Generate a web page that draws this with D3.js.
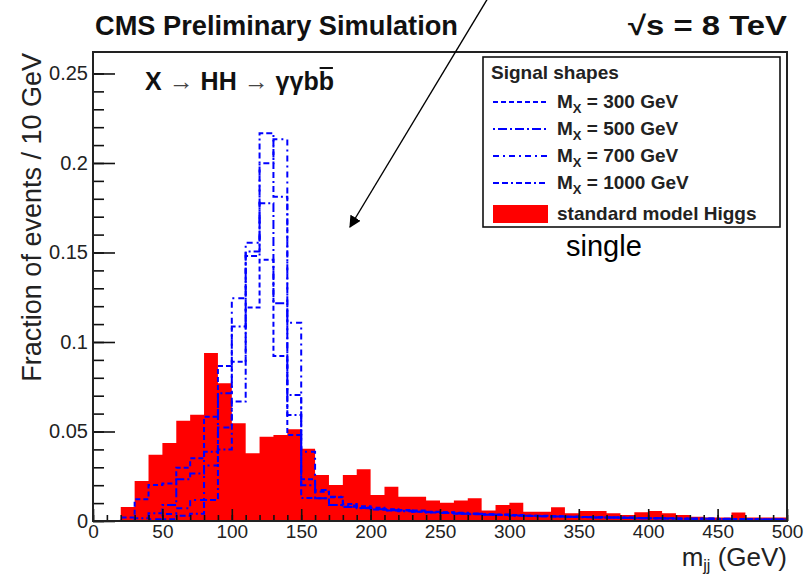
<!DOCTYPE html>
<html>
<head>
<meta charset="utf-8">
<script src="https://cdn.jsdelivr.net/npm/d3@7"></script>
<style>
  body { margin: 0; background: #fff; }
  text { font-family: "Liberation Sans", Arial, sans-serif; }
</style>
</head>
<body>
<svg id="chart" width="809" height="575"></svg>
<script>
// bin edges, 10 GeV wide, 0 -> 500
const binEdges = d3.range(0, 501, 10)

// standard model Higgs (red filled)
const smHiggs = [0, 0, 0.0078, 0.0224, 0.037, 0.0436, 0.056, 0.0594, 0.0938, 0.077,
  0.0546, 0.0378, 0.0471, 0.048, 0.0512, 0.0404, 0.0257, 0.0201, 0.0257, 0.0289,
  0.0145, 0.0192, 0.0136, 0.0136, 0.0114, 0.0102, 0.0114, 0.0127, 0.0058, 0.0089,
  0.0102, 0.0052, 0.0052, 0.0077, 0.0043, 0.0056, 0.0056, 0.0043, 0.0034, 0.0049,
  0.0056, 0.0043, 0.0034, 0.0024, 0.002, 0.002, 0.0047, 0.0019, 0.0019, 0.0019]

// signal shapes
const mx300 = [0, 0, 0.0019, 0.0121, 0.0201, 0.021, 0.0298, 0.035, 0.0583, 0.0866,
  0.089, 0.1192, 0.146, 0.0922, 0.048, 0.0233, 0.0164, 0.0132, 0.0095, 0.0082,
  0.0074, 0.0066, 0.0062, 0.0058, 0.0052, 0.0049, 0.0046, 0.0041, 0.0038, 0.0036,
  0.0033, 0.003, 0.0029, 0.0026, 0.0024, 0.0023, 0.0021, 0.0019, 0.0018, 0.0017,
  0.0015, 0.0015, 0.0013, 0.0012, 0.0012, 0.0011, 0.001, 0.0009, 0.0009, 0.0008]
const mx500 = [0, 0, 0, 0.0015, 0.0043, 0.0089, 0.0233, 0.0266, 0.0387, 0.0713,
  0.1086, 0.1505, 0.1775, 0.1216, 0.0592, 0.02, 0.0127, 0.0089, 0.0078, 0.0072,
  0.0066, 0.006, 0.0057, 0.0052, 0.0049, 0.0045, 0.0042, 0.004, 0.0036, 0.0034,
  0.0031, 0.0029, 0.0027, 0.0025, 0.0024, 0.0022, 0.002, 0.0019, 0.0018, 0.0016,
  0.0015, 0.0014, 0.0013, 0.0013, 0.0012, 0.0011, 0.001, 0.001, 0.0009, 0.0009]
const mx700 = [0, 0, 0, 0, 0.001, 0.0039, 0.0071, 0.0117, 0.031, 0.0523,
  0.1244, 0.1555, 0.1998, 0.2132, 0.1108, 0.0387, 0.0173, 0.0136, 0.0086, 0.0075,
  0.0068, 0.0063, 0.0058, 0.0054, 0.005, 0.0047, 0.0043, 0.004, 0.0037, 0.0035,
  0.0032, 0.003, 0.0028, 0.0026, 0.0024, 0.0023, 0.0021, 0.002, 0.0019, 0.0017,
  0.0016, 0.0015, 0.0014, 0.0013, 0.0012, 0.0012, 0.0011, 0.001, 0.001, 0.0009]
const mx1000 = [0, 0, 0, 0, 0, 0.001, 0.003, 0.004, 0.0117, 0.04,
  0.0667, 0.148, 0.2166, 0.1812, 0.0704, 0.0128, 0.0127, 0.0089, 0.008, 0.0071,
  0.0064, 0.0059, 0.0055, 0.0051, 0.0047, 0.0044, 0.0041, 0.0038, 0.0035, 0.0033,
  0.003, 0.0028, 0.0026, 0.0025, 0.0023, 0.0021, 0.002, 0.0019, 0.0017, 0.0016,
  0.0015, 0.0014, 0.0013, 0.0012, 0.0012, 0.0011, 0.001, 0.001, 0.0009, 0.0009]

const signalNames = ['300', '500', '700', '1000']
const signalSeries = [mx300, mx500, mx700, mx1000]
const signalDash = ['5,3', '2,3,9,3', '6,4,2,4', '6,3,6,3,2,3']

const xMajor = [0, 50, 100, 150, 200, 250, 300, 350, 400, 450, 500]
const xMinor = d3.range(0, 501, 10)
const yMajor = [0, 0.05, 0.1, 0.15, 0.2, 0.25]
const yMinor = d3.range(0, 26).map(function(i) { return i / 100 })

const svg = d3.select('#chart')

// plot frame
const frame = {left: 93, right: 787, top: 52, bottom: 521}
const x = d3.scaleLinear().domain([0, 500]).range([frame.left, frame.right])
const y = d3.scaleLinear().domain([0, 0.262]).range([frame.bottom, frame.top])

// turn a bin array into step points (edge, value)
function steps(vals) {
  const pts = vals.map(function(v, i) { return [binEdges[i], v] })
  pts.push([binEdges[vals.length], vals[vals.length - 1]])
  return pts
}

// red filled histogram
const area = d3.area()
  .curve(d3.curveStepAfter)
  .x(function(d) { return x(d[0]) })
  .y0(y(0))
  .y1(function(d) { return y(d[1]) })

svg.append('path')
  .datum(steps(smHiggs))
  .attr('fill', '#ff0000')
  .attr('d', area)

// blue signal outlines
const line = d3.line()
  .curve(d3.curveStepAfter)
  .x(function(d) { return x(d[0]) })
  .y(function(d) { return y(d[1]) })

signalSeries.forEach(function(s, i) {
  svg.append('path')
    .datum(steps(s))
    .attr('fill', 'none')
    .attr('stroke', '#0000ff')
    .attr('stroke-width', 2)
    .attr('stroke-dasharray', signalDash[i])
    .attr('d', line)
})

// axes: ticks point inwards, ROOT style
const xAxisMinor = d3.axisBottom(x).tickValues(xMinor).tickSize(-6).tickFormat('')
const xAxisMajor = d3.axisBottom(x).tickValues(xMajor).tickSize(-12).tickPadding(4)
  .tickFormat(d3.format('~g'))
const yAxisMinor = d3.axisLeft(y).tickValues(yMinor).tickSize(-11).tickFormat('')
const yAxisMajor = d3.axisLeft(y).tickValues(yMajor).tickSize(-22).tickPadding(5)
  .tickFormat(d3.format('~g'))

function styleAxis(g, size) {
  g.select('.domain').remove()
  g.selectAll('line').attr('stroke', '#111').attr('stroke-width', 1.6)
  g.selectAll('text')
    .attr('fill', '#222')
    .style('font-family', '"Liberation Sans", Arial, sans-serif')
    .style('font-size', size + 'px')
}

svg.append('g').attr('transform', 'translate(0,' + frame.bottom + ')').call(xAxisMinor).call(styleAxis, 19)
svg.append('g').attr('transform', 'translate(0,' + frame.bottom + ')').call(xAxisMajor).call(styleAxis, 19)
svg.append('g').attr('transform', 'translate(' + frame.left + ',0)').call(yAxisMinor).call(styleAxis, 20)
svg.append('g').attr('transform', 'translate(' + frame.left + ',0)').call(yAxisMajor).call(styleAxis, 20)

svg.append('rect')
  .attr('x', frame.left).attr('y', frame.top)
  .attr('width', frame.right - frame.left).attr('height', frame.bottom - frame.top)
  .attr('fill', 'none')
  .attr('stroke', '#222')
  .attr('stroke-width', 2)

// axis titles
svg.append('text')
  .attr('transform', 'translate(41,' + (frame.top + 1) + ') rotate(-90)')
  .attr('text-anchor', 'end')
  .attr('fill', '#222')
  .style('font-size', '27px')
  .text('Fraction of events / 10 GeV')

const xt = svg.append('text')
  .attr('x', frame.right).attr('y', 566)
  .attr('text-anchor', 'end')
  .attr('fill', '#222')
  .style('font-size', '26px')
xt.append('tspan').text('m')
xt.append('tspan').attr('dy', 5).style('font-size', '16px').text('jj')
xt.append('tspan').attr('dy', -5).text(' (GeV)')

// header
svg.append('text')
  .attr('x', 95).attr('y', 35)
  .attr('textLength', 363).attr('lengthAdjust', 'spacingAndGlyphs')
  .style('font-family', '"Liberation Sans Narrow", "Liberation Sans", Arial, sans-serif')
  .style('font-weight', 'bold').style('font-size', '27px')
  .attr('fill', '#111')
  .text('CMS Preliminary Simulation')

svg.append('text')
  .attr('x', 628).attr('y', 35)
  .attr('textLength', 159).attr('lengthAdjust', 'spacingAndGlyphs')
  .style('font-family', '"Liberation Sans Narrow", "Liberation Sans", Arial, sans-serif')
  .style('font-weight', 'bold').style('font-size', '27px')
  .attr('fill', '#111')
  .text('\u221As = 8 TeV')

// process label
const proc = svg.append('text')
  .attr('x', 145).attr('y', 90)
  .attr('fill', '#111')
  .style('font-size', '25px').style('font-weight', 'bold')
proc.append('tspan').text('X ')
proc.append('tspan').style('font-weight', 'normal').attr('fill', '#444').text('\u2192')
proc.append('tspan').text(' HH ')
proc.append('tspan').style('font-weight', 'normal').attr('fill', '#444').text('\u2192')
proc.append('tspan').text(' \u03B3\u03B3bb')
const procNode = proc.node()
const lastB = procNode.getExtentOfChar(procNode.getNumberOfChars() - 1)
svg.append('line')
  .attr('x1', lastB.x + 1).attr('x2', lastB.x + lastB.width - 1)
  .attr('y1', lastB.y + 1).attr('y2', lastB.y + 1)
  .attr('stroke', '#111').attr('stroke-width', 2)

// legend
const lg = svg.append('g')
lg.append('rect')
  .attr('x', 483).attr('y', 57).attr('width', 297).attr('height', 170)
  .attr('fill', '#fff').attr('stroke', '#111').attr('stroke-width', 1.6)
lg.append('text')
  .attr('x', 491).attr('y', 79)
  .attr('fill', '#222')
  .style('font-size', '19px').style('font-weight', 'bold')
  .text('Signal shapes')

const rowY = [102, 129, 156, 183]
signalNames.forEach(function(n, i) {
  lg.append('line')
    .attr('x1', 493).attr('x2', 548)
    .attr('y1', rowY[i]).attr('y2', rowY[i])
    .attr('stroke', '#0000ff').attr('stroke-width', 2)
    .attr('stroke-dasharray', signalDash[i])
  const t = lg.append('text')
    .attr('x', 557).attr('y', rowY[i] + 6)
    .attr('fill', '#222')
    .style('font-size', '19px').style('font-weight', 'bold')
  t.append('tspan').text('M')
  t.append('tspan').attr('dy', 5).style('font-size', '13px').text('X')
  t.append('tspan').attr('dy', -5).text(' = ' + n + ' GeV')
})
lg.append('rect')
  .attr('x', 493).attr('y', 205).attr('width', 55).attr('height', 18)
  .attr('fill', '#ff0000')
lg.append('text')
  .attr('x', 557).attr('y', 220)
  .attr('fill', '#222')
  .style('font-size', '19px').style('font-weight', 'bold')
  .text('standard model Higgs')

// annotation arrow and note
svg.append('defs').append('marker')
  .attr('id', 'head')
  .attr('viewBox', '0 0 10 10')
  .attr('refX', 9).attr('refY', 5)
  .attr('markerWidth', 12).attr('markerHeight', 12)
  .attr('markerUnits', 'userSpaceOnUse')
  .attr('orient', 'auto')
  .append('path').attr('d', 'M0,0 L10,5 L0,10 Z').attr('fill', '#000')

svg.append('line')
  .attr('x1', 488).attr('y1', -2)
  .attr('x2', 350).attr('y2', 227)
  .attr('stroke', '#000').attr('stroke-width', 1.4)
  .attr('marker-end', 'url(#head)')

svg.append('text')
  .attr('x', 566).attr('y', 256)
  .attr('fill', '#000')
  .style('font-size', '29px')
  .text('single')
</script>
</body>
</html>
